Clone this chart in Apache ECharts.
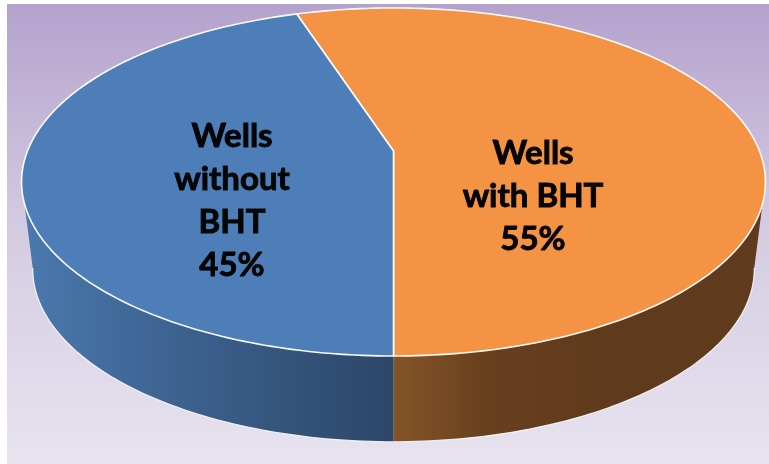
<!DOCTYPE html>
<html>
<head>
<meta charset="utf-8">
<style>html,body{margin:0;padding:0;background:#fff}#c{width:769px;height:464px}</style>
<script src="https://cdn.jsdelivr.net/npm/echarts@6/dist/echarts.min.js"></script>
</head>
<body>
<div id="c"></div>
<script>
const categories = ['Wells\nwith BHT', 'Wells\nwithout\nBHT'];
const values = [55, 45];

const topColors = ['#f49344', '#4d7eb8'];
const wallStops = [
  [[0, '#855428'], [0.45, '#68401e'], [1, '#5f3a1c']],
  [[0, '#4a78ac'], [0.35, '#3e6594'], [1, '#2c4667']]
];
const wallRanges = [[393, 600], [30, 393]];
const labelAt = [[533, 196], [232, 201]];

const START_DEG = -18, TILT = 0.178, CX = 393.5;
const TOP = { a: 366, b: 168.5, y0: 151 };
const BOT = { a: 355, b: 167.5, y0: 238 };
const LEFT_EDGE = 260, RIGHT_EDGE = 100; // silhouette angles of the tilted disc

function proj(deg, f, r) {
  const t = deg * Math.PI / 180, rr = r === undefined ? 1 : r;
  const u = Math.sin(t) * rr, v = Math.cos(t) * rr, w = 1 + TILT * v;
  return [CX + f.a * u / w, f.y0 - f.b * v / w];
}
function arc(from, to, f) {
  const pts = [], n = Math.max(2, Math.ceil(Math.abs(to - from)));
  for (let i = 0; i <= n; i++) pts.push(proj(from + (to - from) * i / n, f));
  return pts;
}
const total = values.reduce((s, v) => s + v, 0);

function renderSlice(params, api) {
  const i = params.dataIndex;
  let before = 0;
  for (let j = 0; j < i; j++) before += values[j];
  const a0 = START_DEG + before / total * 360;
  const a1 = a0 + api.value(0) / total * 360;
  const children = [];

  // side wall: the part of this slice on the visible front of the disc
  let w0 = null, w1 = null;
  for (const shift of [0, 360, -360]) {
    const lo = Math.max(a0 + shift, RIGHT_EDGE), hi = Math.min(a1 + shift, LEFT_EDGE);
    if (hi > lo) { w0 = lo; w1 = hi; break; }
  }
  if (w0 !== null) {
    const upper = arc(w0, w1, TOP), lower = arc(w1, w0, BOT);
    children.push({
      type: 'polygon', z2: 1,
      shape: { points: upper.concat(lower) },
      style: {
        fill: {
          type: 'linear', global: true, x: wallRanges[i][0], y: 0, x2: wallRanges[i][1], y2: 0,
          colorStops: wallStops[i].map(s => ({ offset: s[0], color: s[1] }))
        }
      }
    });
    children.push({
      type: 'polyline', z2: 2, shape: { points: lower },
      style: { fill: 'none', stroke: 'rgba(255,255,255,0.85)', lineWidth: 1.2 }
    });
    const seam = w0 === 180 ? w0 : (w1 === 180 ? w1 : null);
    if (seam !== null) {
      children.push({
        type: 'line', z2: 3,
        shape: { x1: proj(seam, TOP)[0], y1: proj(seam, TOP)[1], x2: proj(seam, BOT)[0], y2: proj(seam, BOT)[1] },
        style: { stroke: 'rgba(255,255,255,0.55)', lineWidth: 1 }
      });
    }
  }

  // top face
  const centre = proj(0, TOP, 0);
  children.push({
    type: 'polygon', z2: 4,
    shape: { points: [centre].concat(arc(a0, a1, TOP)) },
    style: { fill: topColors[i], stroke: 'rgba(255,255,255,0.95)', lineWidth: 1.6, lineJoin: 'round' }
  });
  children.push({
    type: 'text', z2: 10,
    style: {
      x: labelAt[i][0], y: labelAt[i][1], align: 'center', verticalAlign: 'middle',
      text: categories[i] + '\n' + api.value(0) + '%',
      fontFamily: 'Lato', fontWeight: 'bold', fontSize: 33, lineHeight: 43, fill: '#050505',
      stroke: '#050505', lineWidth: 0.9
    }
  });
  return { type: 'group', children: children };
}

const chart = echarts.init(document.getElementById('c'), null, { renderer: 'canvas' });
chart.setOption({
  animation: false,
  backgroundColor: '#ffffff',
  graphic: [{
    type: 'rect', z: -1, silent: true,
    shape: { x: 7, y: 4, width: 762, height: 460 },
    style: {
      fill: {
        type: 'linear', x: 0, y: 0, x2: 0, y2: 1,
        colorStops: [
          { offset: 0, color: '#b4a2cd' },
          { offset: 0.5, color: '#d5cce2' },
          { offset: 1, color: '#e8e3ef' }
        ]
      }
    }
  }],
  series: [{
    type: 'custom',
    coordinateSystem: 'none',
    silent: true,
    clip: false,
    data: values.map(v => [v]),
    renderItem: renderSlice
  }]
});
</script>
</body>
</html>
